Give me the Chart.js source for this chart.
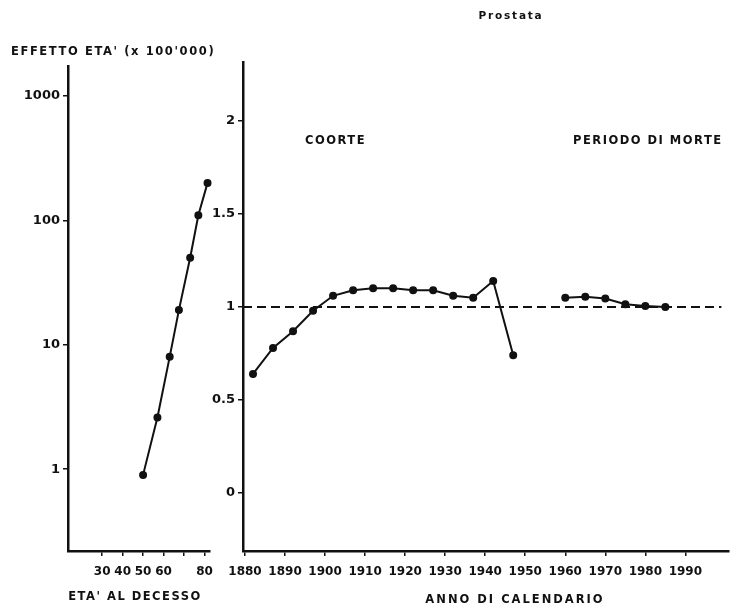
<!DOCTYPE html>
<html>
<head>
<meta charset="utf-8">
<script src="https://cdn.jsdelivr.net/npm/chart.js@4.4.1/dist/chart.umd.min.js"></script>
<style>
  html, body { margin: 0; padding: 0; background: #fff; }
  #wrap { position: relative; width: 734px; height: 610px; }
  #ageBox { position: absolute; left: 0; top: 0; width: 225px; height: 610px; }
  #yearBox { position: absolute; left: 195px; top: 0; width: 539px; height: 610px; }
</style>
</head>
<body>
<div id="wrap">
  <div id="ageBox"><canvas id="ageChart"></canvas></div>
  <div id="yearBox"><canvas id="yearChart"></canvas></div>
</div>
<script>
// age effect, rate per 100'000 (log scale)
const ageAtDeath = [50, 57, 63, 67.5, 73, 77, 81.5];
const ageEffect = [0.9, 2.6, 8, 19, 50, 110, 200];
const ageTicks = [30, 40, 50, 60, 70, 80];
const ageTickLabels = ["30", "40", "50", "60", "", "80"];
const ageEffectTicks = [1, 10, 100, 1000];

// cohort effect by year of birth
const cohortYears = [1882, 1887, 1892, 1897, 1902, 1907, 1912, 1917, 1922, 1927, 1932, 1937, 1942, 1947];
const cohortEffect = [0.64, 0.78, 0.87, 0.98, 1.06, 1.09, 1.1, 1.1, 1.09, 1.09, 1.06, 1.05, 1.14, 0.74];

// period of death effect
const periodYears = [1960, 1965, 1970, 1975, 1980, 1985];
const periodEffect = [1.05, 1.055, 1.045, 1.015, 1.005, 1.0];

// reference level
const refYears = [1879.5, 1999];
const refLevel = 1;

const yearTicks = [1880, 1890, 1900, 1910, 1920, 1930, 1940, 1950, 1960, 1970, 1980, 1990];
const relTicks = [0, 0.5, 1, 1.5, 2];

const INK = "#111";
const FONT = "'DejaVu Sans', sans-serif";
const tickFont = { family: FONT, size: 13, weight: "bold" };
const smallTickFont = { family: FONT, size: 12, weight: "bold" };

// free text drawn on top of each chart
const freeLabels = {
  id: "freeLabels",
  afterDraw(chart, args, opts) {
    const ctx = chart.ctx;
    ctx.save();
    ctx.fillStyle = INK;
    ctx.textBaseline = "middle";
    (opts.items || []).forEach(it => {
      ctx.font = it.font;
      ctx.letterSpacing = it.spacing || "0px";
      ctx.textAlign = it.align || "left";
      ctx.fillText(it.text, it.x, it.y);
    });
    ctx.restore();
  }
};

const pts = (xs, ys) => xs.map((x, i) => ({ x, y: ys[i] }));

function axisBase(ticks, labelFn, pad, font) {
  return {
    afterBuildTicks: s => { s.ticks = ticks.map(v => ({ value: v })); },
    ticks: { font: font || tickFont, color: INK, autoSkip: false, maxRotation: 0, padding: pad, callback: labelFn },
    grid: { drawOnChartArea: false, tickLength: 5, color: INK, lineWidth: 1.5 },
    border: { color: INK, width: 2.5 }
  };
}

const lineStyle = {
  borderColor: INK,
  backgroundColor: INK,
  borderWidth: 2,
  pointRadius: 3,
  pointHoverRadius: 3,
  tension: 0,
  clip: false
};

const labelFont = "bold 11.5px " + FONT;

// left panel: age at death
new Chart(document.getElementById("ageChart"), {
  type: "line",
  data: {
    datasets: [{ data: pts(ageAtDeath, ageEffect), ...lineStyle }]
  },
  options: {
    responsive: true,
    maintainAspectRatio: false,
    animation: false,
    layout: { padding: { top: 66, right: 15, left: 0, bottom: 0 } },
    plugins: {
      legend: { display: false },
      tooltip: { enabled: false },
      freeLabels: {
        items: [
          { text: "EFFETTO ETA' (x 100'000)", x: 11, y: 52, font: labelFont, spacing: "1.6px" },
          { text: "ETA' AL DECESSO", x: 135, y: 597, font: labelFont, spacing: "1.5px", align: "center" }
        ]
      }
    },
    scales: {
      x: {
        type: "linear",
        min: 13.3,
        max: 82.7,
        ...axisBase(ageTicks, (v, i) => ageTickLabels[i], 9, smallTickFont),
        afterFit: s => { s.height = 59; s.paddingLeft = 0; s.paddingRight = 0; }
      },
      y: {
        type: "logarithmic",
        min: 0.22,
        max: 1740,
        ...axisBase(ageEffectTicks, v => String(v), 3),
        afterFit: s => { s.width = 68; s.paddingTop = 0; s.paddingBottom = 0; }
      }
    }
  },
  plugins: [freeLabels]
});

// right panel: cohort and period of death
const dx = 195;
new Chart(document.getElementById("yearChart"), {
  type: "line",
  data: {
    datasets: [
      {
        data: pts(refYears, refYears.map(() => refLevel)),
        borderColor: INK,
        borderWidth: 2,
        borderDash: [9, 5],
        pointRadius: 0,
        tension: 0
      },
      { data: pts(cohortYears, cohortEffect), ...lineStyle },
      { data: pts(periodYears, periodEffect), ...lineStyle }
    ]
  },
  options: {
    responsive: true,
    maintainAspectRatio: false,
    animation: false,
    layout: { padding: { top: 62, right: 4, left: 0, bottom: 0 } },
    plugins: {
      legend: { display: false },
      tooltip: { enabled: false },
      freeLabels: {
        items: [
          { text: "Prostata", x: 511 - dx, y: 16, font: "bold 10.5px " + FONT, spacing: "1.8px", align: "center" },
          { text: "COORTE", x: 305 - dx, y: 141, font: labelFont, spacing: "1.5px" },
          { text: "PERIODO DI MORTE", x: 573 - dx, y: 141, font: labelFont, spacing: "1.5px" },
          { text: "ANNO DI CALENDARIO", x: 515 - dx, y: 600, font: labelFont, spacing: "2px", align: "center" }
        ]
      }
    },
    scales: {
      x: {
        type: "linear",
        min: 1879.5,
        max: 2000.9,
        ...axisBase(yearTicks, v => String(v), 9, smallTickFont),
        afterFit: s => { s.height = 59; s.paddingLeft = 0; s.paddingRight = 0; }
      },
      y: {
        type: "linear",
        min: -0.312,
        max: 2.317,
        ...axisBase(relTicks, v => String(v), 3),
        afterFit: s => { s.width = 48; s.paddingTop = 0; s.paddingBottom = 0; }
      }
    }
  },
  plugins: [freeLabels]
});
</script>
</body>
</html>
